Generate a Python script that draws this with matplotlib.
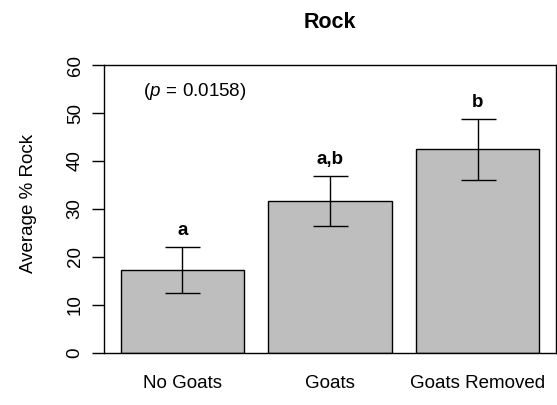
"""Rock cover bar chart"""

import matplotlib
matplotlib.use('Agg')
import matplotlib.pyplot as plt

categories = ['No Goats', 'Goats', 'Goats Removed']
means = [17.3, 31.6, 42.4]
errs = [4.75, 5.2, 6.4]
letters = ['a', 'a,b', 'b']
yticks = [0, 10, 20, 30, 40, 50, 60]
p_label = r'$(\mathit{p}\,=\,0.0158)$'

plt.rcParams['font.family'] = ['Liberation Sans', 'DejaVu Sans']
plt.rcParams['mathtext.fontset'] = 'custom'
plt.rcParams['mathtext.rm'] = 'Liberation Sans'
plt.rcParams['mathtext.it'] = 'Liberation Sans:italic'

fig = plt.figure(figsize=(5.57, 4.05), dpi=100)
ax = fig.add_axes([0.1867, 0.1284, 0.8115, 0.7111])

# R barplot layout: width 1, space 0.2
xs = [0.7 + 1.2 * i for i in range(len(categories))]
ax.bar(xs, means, width=1.0, color='#bebebe', edgecolor='black',
       linewidth=1.0, zorder=2)
ax.errorbar(xs, means, yerr=errs, fmt='none', ecolor='black',
            elinewidth=1.0, capsize=12.6, capthick=1.0, zorder=3)
for x, m, e, lab in zip(xs, means, errs, letters):
    ax.text(x, m + e + 2.5, lab, ha='center', va='baseline',
            fontsize=13.5, fontweight='bold')
ax.text(0.8, 53.5, p_label, ha='center', va='baseline', fontsize=13.5)

ax.set_xlim(0.064, 3.736)
ax.set_ylim(0, 60)
ax.set_yticks(yticks)
ax.set_yticklabels([str(t) for t in yticks], rotation=90, va='center')
ax.set_xticks(xs)
ax.set_xticklabels(categories)
ax.tick_params(axis='y', length=8.6, width=1.0, pad=6, labelsize=13.5)
ax.tick_params(axis='x', length=0, pad=16, labelsize=13.5)
for s in ax.spines.values():
    s.set_linewidth(1.0)
ax.set_ylabel('Average % Rock', fontsize=13.5)
ax.yaxis.set_label_coords(-0.148, 0.52)
ax.set_title('Rock', fontsize=15.5, fontweight='bold', pad=27)

fig.savefig('out.png', dpi=100)
